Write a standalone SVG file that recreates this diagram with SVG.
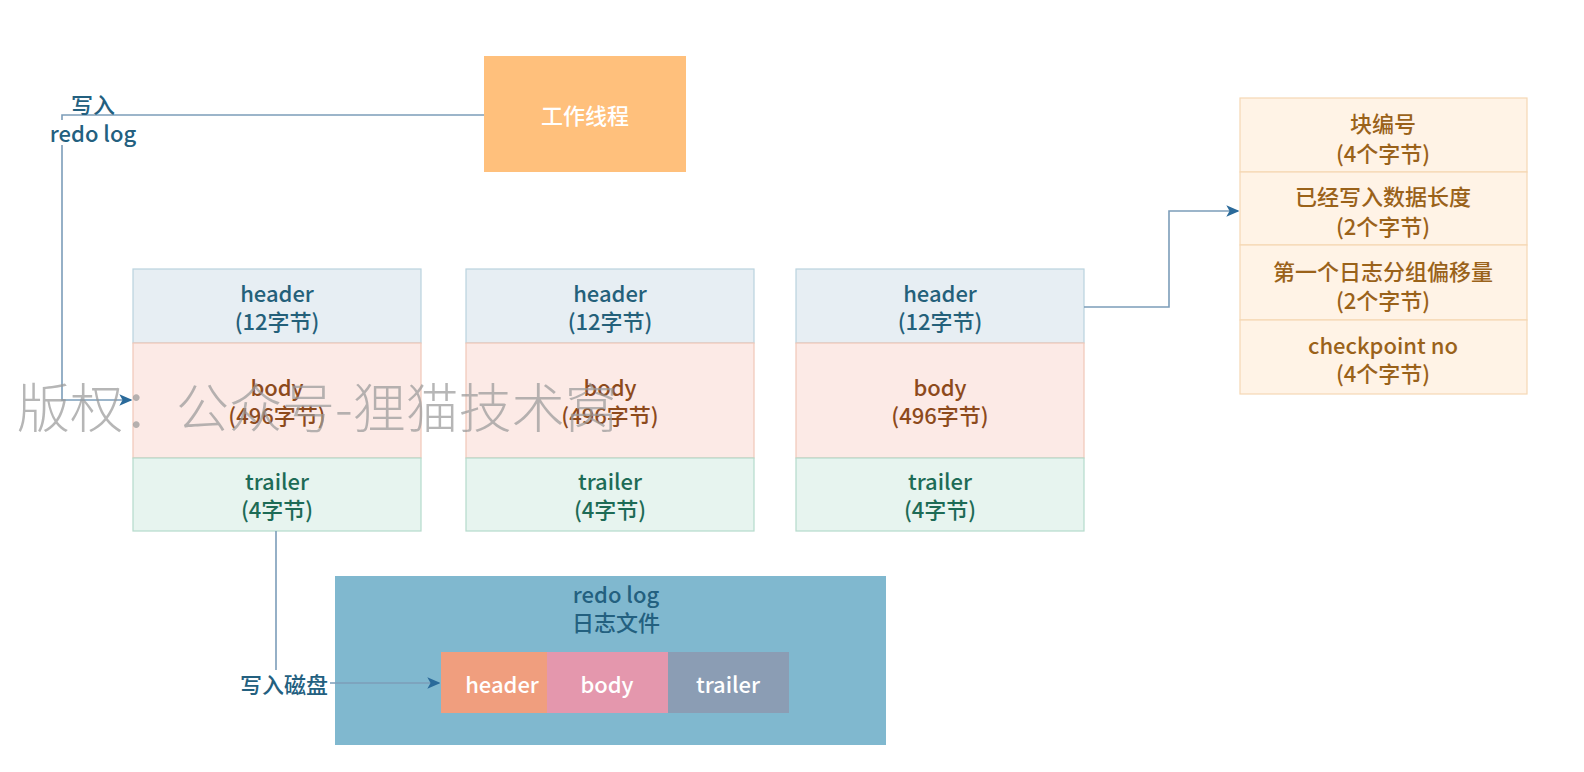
<svg xmlns="http://www.w3.org/2000/svg" width="1584" height="772" viewBox="0 0 1584 772">
  <style>
    text { font-family: "Noto Sans CJK SC", "Noto Sans", sans-serif; font-size: 22px; font-weight: 500; text-anchor: middle; dominant-baseline: central; }
    .hdr rect { fill: #E7EEF3; stroke: #B9D3DE; stroke-width: 1.2; }
    .hdr text { fill: #24607A; }
    .bdy rect { fill: #FCEAE6; stroke: #F1C7B8; stroke-width: 1.2; }
    .bdy text { fill: #8D4A1C; }
    .trl rect { fill: #E7F4EF; stroke: #B5DACB; stroke-width: 1.2; }
    .trl text { fill: #1D6B56; }
    .meta rect { fill: #FFF3E6; stroke: #F5D8B4; stroke-width: 1.2; }
    .meta text { fill: #9A621A; }
    .lbl { fill: #23607F; }
    .white { fill: #FFFFFF; }
    .wire { fill: none; stroke: #7C9DB9; stroke-width: 1.6; }
    .mark { font-size: 53px; font-weight: 300; fill: #9A9A9A; fill-opacity: 0.72; text-anchor: start; dominant-baseline: alphabetic; }
  </style>
  <defs>
    <marker id="arrow" viewBox="0 0 10 10" refX="9" refY="5" markerWidth="13" markerHeight="13" markerUnits="userSpaceOnUse" orient="auto">
      <path d="M0,0.5 L10,5 L0,9.5 L2.5,5 Z" fill="#2A6A9A"/>
    </marker>
  </defs>

  <rect width="1584" height="772" fill="#FFFFFF"/>

  <!-- worker thread -->
  <g id="worker">
    <rect x="484" y="56" width="202" height="116" fill="#FFC07C"/>
    <text class="white" x="585" y="114">工作线程</text>
  </g>

  <!-- log block 1 -->
  <g id="block1">
    <g class="hdr"><rect x="133" y="269" width="288" height="74"/><text x="277" y="292">header</text><text x="277" y="320">(12字节)</text></g>
    <g class="bdy"><rect x="133" y="343" width="288" height="115"/><text x="277" y="386">body</text><text x="277" y="414">(496字节)</text></g>
    <g class="trl"><rect x="133" y="458" width="288" height="73"/><text x="277" y="480">trailer</text><text x="277" y="508">(4字节)</text></g>
  </g>

  <!-- log block 2 -->
  <g id="block2">
    <g class="hdr"><rect x="466" y="269" width="288" height="74"/><text x="610" y="292">header</text><text x="610" y="320">(12字节)</text></g>
    <g class="bdy"><rect x="466" y="343" width="288" height="115"/><text x="610" y="386">body</text><text x="610" y="414">(496字节)</text></g>
    <g class="trl"><rect x="466" y="458" width="288" height="73"/><text x="610" y="480">trailer</text><text x="610" y="508">(4字节)</text></g>
  </g>

  <!-- log block 3 -->
  <g id="block3">
    <g class="hdr"><rect x="796" y="269" width="288" height="74"/><text x="940" y="292">header</text><text x="940" y="320">(12字节)</text></g>
    <g class="bdy"><rect x="796" y="343" width="288" height="115"/><text x="940" y="386">body</text><text x="940" y="414">(496字节)</text></g>
    <g class="trl"><rect x="796" y="458" width="288" height="73"/><text x="940" y="480">trailer</text><text x="940" y="508">(4字节)</text></g>
  </g>

  <!-- header fields -->
  <g id="header-fields" class="meta">
    <rect x="1240" y="98" width="287" height="74"/>
    <rect x="1240" y="172" width="287" height="73"/>
    <rect x="1240" y="245" width="287" height="75"/>
    <rect x="1240" y="320" width="287" height="74"/>
    <text x="1383" y="122">块编号</text>
    <text x="1383" y="152">(4个字节)</text>
    <text x="1383" y="195">已经写入数据长度</text>
    <text x="1383" y="225">(2个字节)</text>
    <text x="1383" y="270">第一个日志分组偏移量</text>
    <text x="1383" y="299">(2个字节)</text>
    <text x="1383" y="344">checkpoint no</text>
    <text x="1383" y="372">(4个字节)</text>
  </g>

  <!-- redo log file on disk -->
  <g id="redo-file">
    <rect x="335" y="576" width="551" height="169" fill="#80B8CF"/>
    <text class="lbl" x="616" y="593">redo log</text>
    <text class="lbl" x="616" y="621">日志文件</text>
    <rect x="441" y="652" width="106" height="61" fill="#F09E7E"/>
    <rect x="547" y="652" width="121" height="61" fill="#E497AD"/>
    <rect x="668" y="652" width="121" height="61" fill="#8B9DB4"/>
    <text class="white" x="502" y="683">header</text>
    <text class="white" x="607" y="683">body</text>
    <text class="white" x="728" y="683">trailer</text>
  </g>

  <!-- connectors -->
  <g id="connectors">
    <path class="wire" d="M484,115 H62 V400 H131" marker-end="url(#arrow)"/>
    <path class="wire" d="M1084,307 H1169 V211 H1238" marker-end="url(#arrow)"/>
    <path class="wire" d="M276,531 V683 H439" marker-end="url(#arrow)"/>
    <!-- label backgrounds -->
    <rect x="68" y="92" width="50" height="22" fill="#FFFFFF"/>
    <rect x="47" y="120" width="92" height="25" fill="#FFFFFF"/>
    <rect x="238" y="670" width="92" height="26" fill="#FFFFFF"/>
    <text class="lbl" x="93" y="103">写入</text>
    <text class="lbl" x="93" y="132">redo log</text>
    <text class="lbl" x="284" y="683">写入磁盘</text>
  </g>

  <text class="mark" x="17" y="428">版权：公众号-狸猫技术窝</text>
</svg>
